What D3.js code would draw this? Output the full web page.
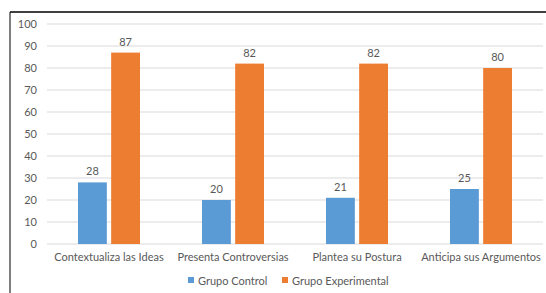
<!DOCTYPE html>
<html>
<head>
<meta charset="utf-8">
<script src="https://cdn.jsdelivr.net/npm/d3@7"></script>
<style>
  body { margin: 0; background: #fff; }
  text { font-family: "Lato", "Open Sans", sans-serif; fill: #595959; }
</style>
</head>
<body>
<svg id="plot"></svg>
<script>
// chart data
const categories = ["Contextualiza las Ideas", "Presenta Controversias", "Plantea su Postura", "Anticipa sus Argumentos"];
const seriesNames = ["Grupo Control", "Grupo Experimental"];
const controlValues = [28, 20, 21, 25];
const experimentalValues = [87, 82, 82, 80];
const yTicks = [0, 10, 20, 30, 40, 50, 60, 70, 80, 90, 100];
const colors = ["#5b9bd5", "#ed7d31"];

const svg = d3.select("#plot")
    .attr("width", 546)
    .attr("height", 293);
const margin = { top: 24, right: 3, bottom: 49, left: 47 };
const width = 546 - margin.left - margin.right;
const height = 293 - margin.top - margin.bottom;

// frame lines (left + top)
svg.append("line")
    .attr("x1", 10).attr("x2", 10).attr("y1", 12).attr("y2", 293)
    .attr("stroke", "#7f7f7f").attr("stroke-width", 2);
svg.append("line")
    .attr("x1", 10).attr("x2", 546).attr("y1", 12).attr("y2", 12)
    .attr("stroke", "#000").attr("stroke-width", 1.5);

const g = svg.append("g")
    .attr("transform", `translate(${margin.left},${margin.top})`);

// scales
const x0 = d3.scaleBand()
    .domain(categories)
    .range([0, width]);
const x1 = d3.scaleBand()
    .domain(seriesNames)
    .range([0, 62])
    .paddingInner(0.13);
const y = d3.scaleLinear()
    .domain([0, 100])
    .range([height, 0]);

// gridlines
g.selectAll(".grid")
    .data(yTicks)
    .enter().append("line")
    .attr("class", "grid")
    .attr("x1", 0).attr("x2", width)
    .attr("y1", d => y(d)).attr("y2", d => y(d))
    .attr("stroke", "#d9d9d9").attr("stroke-width", 1);

// y-axis labels
const yAxis = d3.axisLeft(y).tickValues(yTicks).tickSize(0).tickPadding(10);
g.append("g")
    .call(yAxis)
    .call(a => a.select(".domain").remove())
    .selectAll("text")
    .style("font-size", "11px")
    .style("fill", "#595959");

// x-axis labels
const xAxis = d3.axisBottom(x0).tickSize(0).tickPadding(9);
g.append("g")
    .attr("transform", `translate(0,${height})`)
    .call(xAxis)
    .call(a => a.select(".domain").remove())
    .selectAll("text")
    .style("font-size", "11px")
    .style("fill", "#595959");

// bars
const rows = categories.map((c, i) => ({
    cat: c,
    vals: [
        { s: seriesNames[0], v: controlValues[i] },
        { s: seriesNames[1], v: experimentalValues[i] }
    ]
}));

const groups = g.selectAll(".group")
    .data(rows)
    .enter().append("g")
    .attr("class", "group")
    .attr("transform", d => `translate(${x0(d.cat) + (x0.bandwidth() - 62) / 2},0)`);

groups.selectAll("rect")
    .data(d => d.vals)
    .enter().append("rect")
    .attr("x", d => x1(d.s))
    .attr("y", d => y(d.v))
    .attr("width", x1.bandwidth())
    .attr("height", d => height - y(d.v))
    .attr("fill", (d, i) => colors[i]);

groups.selectAll(".val")
    .data(d => d.vals)
    .enter().append("text")
    .attr("class", "val")
    .attr("x", d => x1(d.s) + x1.bandwidth() / 2)
    .attr("y", d => y(d.v) - 7)
    .attr("text-anchor", "middle")
    .style("font-size", "11px")
    .text(d => d.v);

// legend
const legendX = [188, 282];
const legend = svg.selectAll(".legend")
    .data(seriesNames)
    .enter().append("g")
    .attr("class", "legend")
    .attr("transform", (d, i) => `translate(${legendX[i]},281)`);
legend.append("rect")
    .attr("x", 0).attr("y", -4)
    .attr("width", 6).attr("height", 6)
    .attr("fill", (d, i) => colors[i]);
legend.append("text")
    .attr("x", 10).attr("y", 4)
    .style("font-size", "11px")
    .text(d => d);
</script>
</body>
</html>
